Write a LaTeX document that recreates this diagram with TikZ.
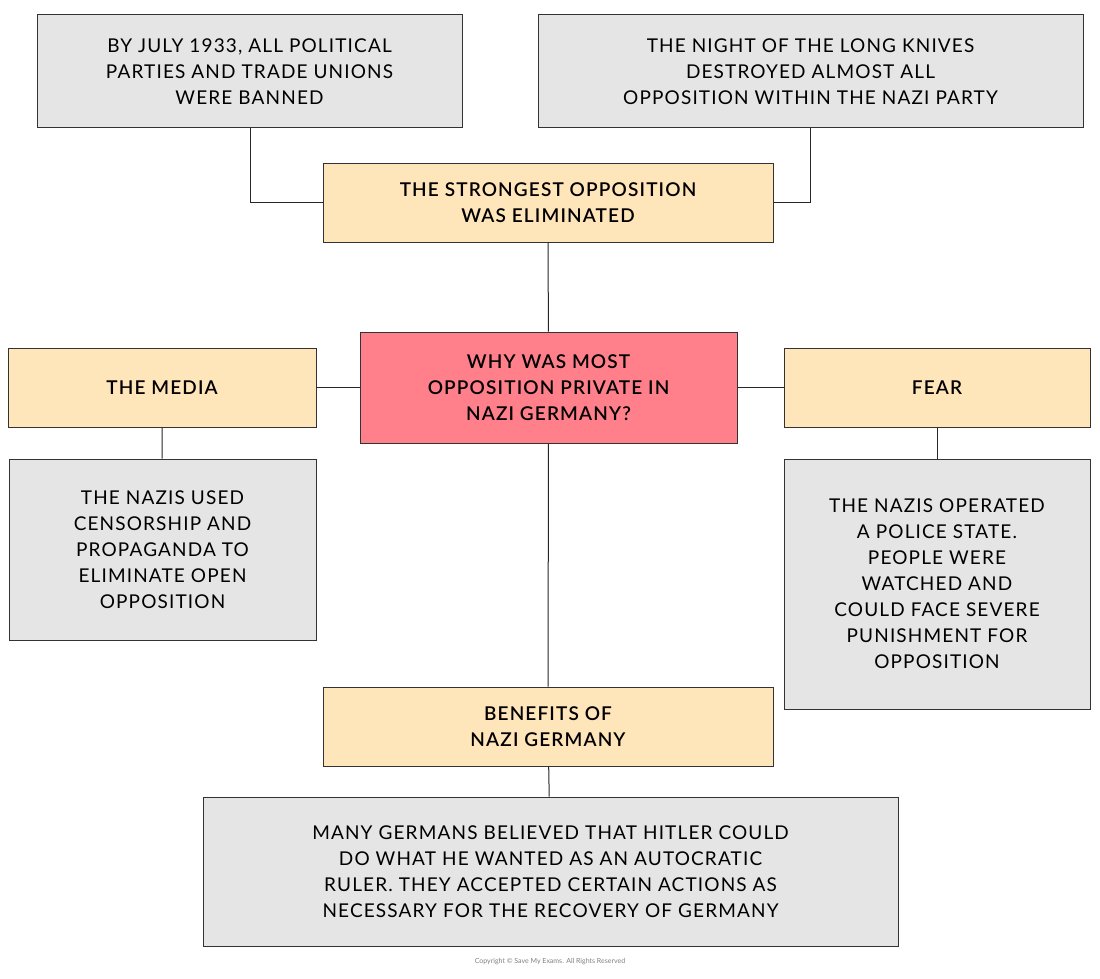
\documentclass[tikz,border=0pt]{standalone}
\usepackage{fontspec}
\setmainfont{Lato}[LetterSpace=6]
\newfontfamily\boldf{Lato Semibold}[LetterSpace=6]
\newfontfamily\copyf{Lato}
\begin{document}
\begin{tikzpicture}[x=1pt,y=-1pt,
  box/.style={draw=black!80,line width=1pt,align=center,inner sep=0pt,
    font=\fontsize{19}{26}\selectfont},
  grey/.style={box,fill=black!10},
  beige/.style={box,fill=orange!10!yellow!25!white,fill=beigec,font=\boldf\fontsize{19}{26}\selectfont},
  link/.style={draw=black!85,line width=1pt}]
\definecolor{beigec}{HTML}{FFE5BA}
\definecolor{redc}{HTML}{FF7F8B}
\useasboundingbox (0,0) rectangle (1100,979);
\def\bx#1#2#3#4#5#6#7{\node[#1,minimum width=#4-#2,minimum height=#5-#3] (#6) at ({(#2+#4)/2},{(#3+#5)/2}) {#7};}
\bx{grey}{37}{15}{462}{128}{tl}{BY JULY 1933, ALL POLITICAL\\PARTIES AND TRADE UNIONS\\WERE BANNED}
\bx{grey}{538}{15}{1083}{128}{tr}{THE NIGHT OF THE LONG KNIVES\\DESTROYED ALMOST ALL\\OPPOSITION WITHIN THE NAZI PARTY}
\bx{beige}{323}{163}{773}{242}{strong}{THE STRONGEST OPPOSITION\\WAS ELIMINATED}
\bx{beige,fill=redc}{360}{332}{737}{443}{center}{WHY WAS MOST\\OPPOSITION PRIVATE IN\\NAZI GERMANY?}
\bx{beige}{8}{348}{316}{427}{media}{THE MEDIA}
\bx{beige}{784}{348}{1090}{427}{fear}{FEAR}
\bx{grey}{9}{459}{316}{640}{mediat}{THE NAZIS USED\\CENSORSHIP AND\\PROPAGANDA TO\\ELIMINATE OPEN\\OPPOSITION}
\bx{grey}{784}{459}{1090}{709}{feart}{THE NAZIS OPERATED\\A POLICE STATE.\\PEOPLE WERE\\WATCHED AND\\COULD FACE SEVERE\\PUNISHMENT FOR\\OPPOSITION}
\bx{beige}{323}{687}{773}{766}{ben}{BENEFITS OF\\NAZI GERMANY}
\bx{grey}{203}{797}{898}{946}{bent}{MANY GERMANS BELIEVED THAT HITLER COULD\\DO WHAT HE WANTED AS AN AUTOCRATIC\\RULER. THEY ACCEPTED CERTAIN ACTIONS AS\\NECESSARY FOR THE RECOVERY OF GERMANY}
\draw[link] (tl.south -| 250,0) |- (strong.west);
\draw[link] (tr.south -| 810,0) |- (strong.east);
\draw[link] (strong) -- (center);
\draw[link] (center) -- (ben);
\draw[link] (media) -- (center);
\draw[link] (center) -- (fear);
\draw[link] (media) -- (mediat);
\draw[link] (fear) -- (feart);
\draw[link] (ben) -- (bent);
\node[font=\copyf\fontsize{7}{8}\selectfont,text=black!50] (copy) at (550,962) {Copyright © Save My Exams. All Rights Reserved};
\end{tikzpicture}
\end{document}
